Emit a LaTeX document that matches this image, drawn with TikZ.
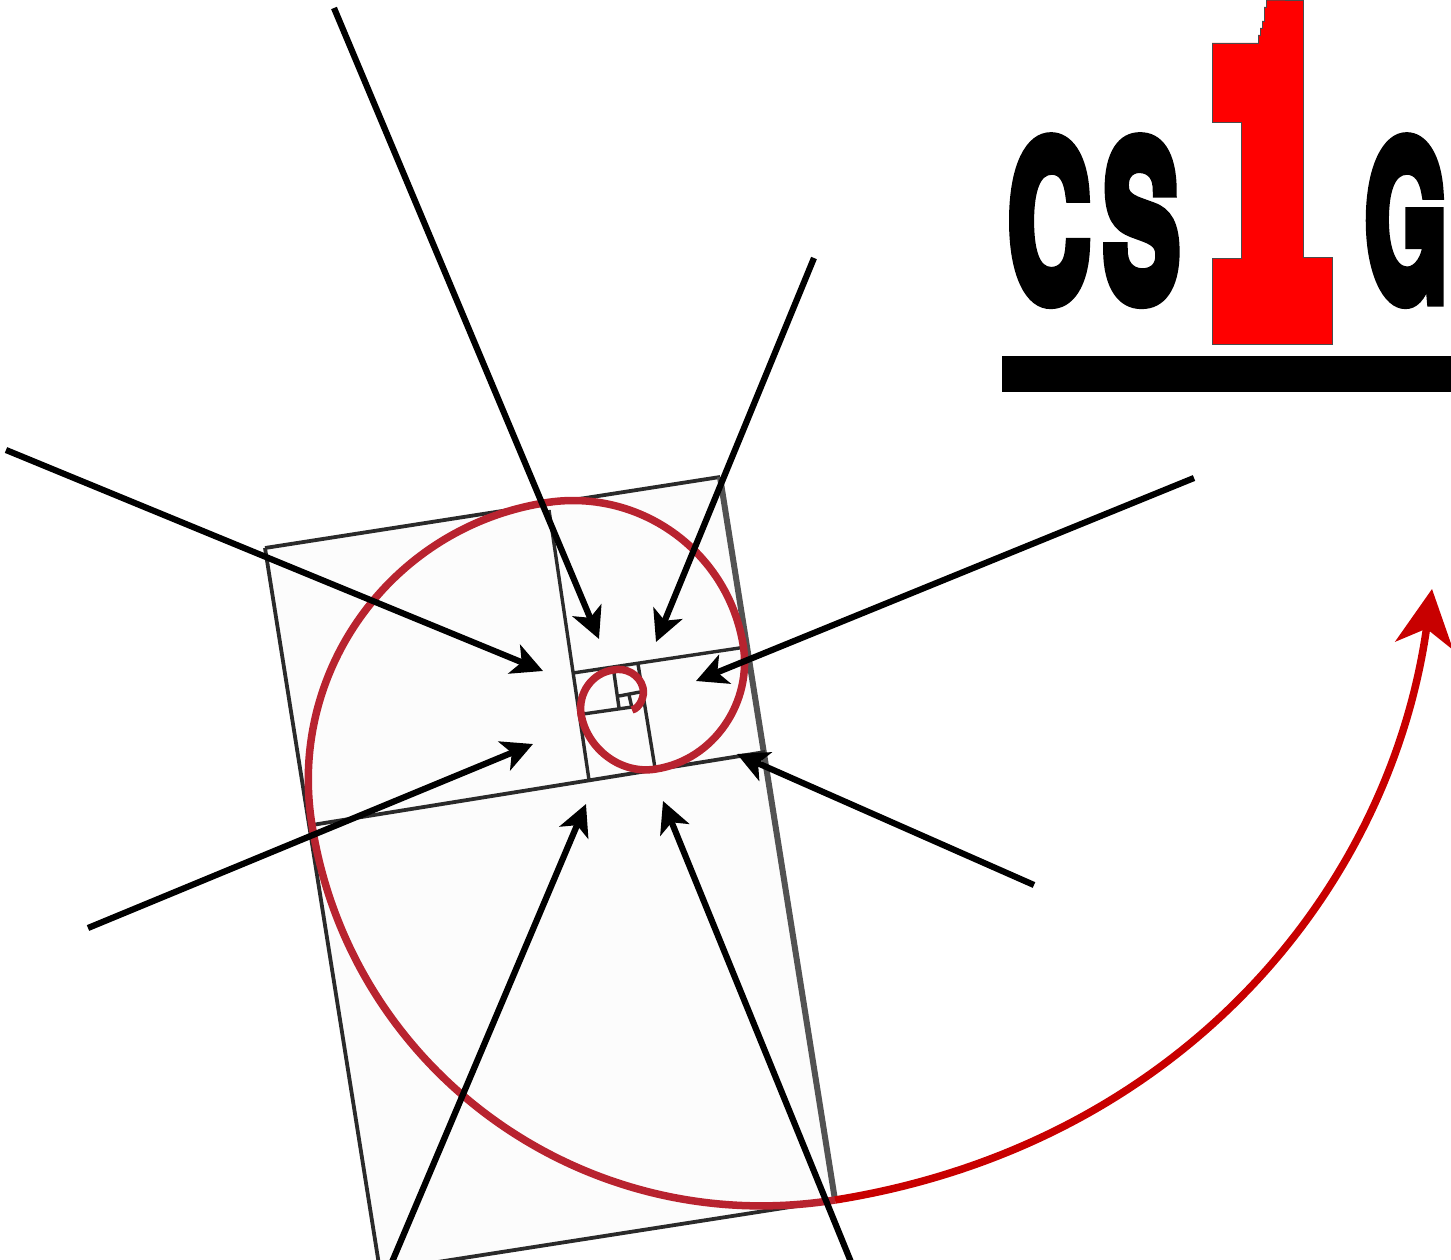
\documentclass[tikz,border=0pt]{standalone}
\usepackage{fontspec}
\usetikzlibrary{arrows.meta}
\newfontfamily\logofont[BoldFeatures={FakeBold=7}]{TeX Gyre Heros}
\definecolor{spiralred}{HTML}{B8232F}
\definecolor{arrowred}{HTML}{C80000}
\definecolor{paper}{HTML}{FCFCFC}
\definecolor{edgegray}{HTML}{2A2A2A}
\tikzset{
  frameline/.style={draw=edgegray,line width=3.8pt},
  fineline/.style={draw=edgegray,line width=3.4pt},
  pointer/.style={draw=black,line width=6.2pt,-{Stealth[length=31pt,width=31pt,inset=8pt]}},
  logotext/.style={inner sep=0pt,outer sep=0pt,text=black,font=\logofont\bfseries\fontsize{215}{215}\selectfont}
}
\begin{document}
\begin{tikzpicture}[x=1pt,y=-1pt]
\useasboundingbox (0,0) rectangle (1451,1260);
\clip (0,0) rectangle (1451,1260);
% paper
\fill[paper] (265,548) -- (720,477) -- (835,1200) -- (380,1271) -- cycle;
\draw[frameline] (265,548) -- (720,477);
\draw[frameline] (265,548) -- (380,1271) -- (835,1200);
\draw[draw=black!68,line width=6pt] (720,477) -- (835,1200);
% dividers
\draw[frameline] (312,825) -- (765,752);
\draw[fineline] (549,510) -- (589,780);
\draw[fineline] (573,673) -- (746,647);
\draw[fineline] (638,664) -- (655,768);
\draw[fineline] (583,714) -- (632,707);
\draw[fineline] (614,673) -- (619,708);
\draw[fineline] (619,696) -- (640,692);
\draw[fineline] (629,695) -- (632,708);
% spiral
\draw[spiralred,line width=7.5pt]
  (835,1200) .. controls (585,1240) and (351,1072) .. (312,825)
  .. controls (287,672) and (391,528) .. (544,503)
  .. controls (638,487) and (727,550) .. (743,644)
  .. controls (753,702) and (714,760) .. (656,769)
  .. controls (621,775) and (587,749) .. (581,714)
  .. controls (578,693) and (592,673) .. (613,670)
  .. controls (626,667) and (640,675) .. (643,688)
  .. controls (645,696) and (640,708) .. (632,710);
% red arrow
\draw[arrowred,line width=7.5pt,-{Stealth[length=57pt,width=58pt,inset=17pt]}]
  (835,1200) .. controls (1180,1145) and (1390,890) .. (1432,589);
% pointers
\coordinate (a1s) at (334,8);    \coordinate (a1e) at (599,639);
\coordinate (a2s) at (814,258);  \coordinate (a2e) at (656,642);
\coordinate (a3s) at (6,450);    \coordinate (a3e) at (543,671);
\coordinate (a4s) at (1194,478); \coordinate (a4e) at (696,681);
\coordinate (a5s) at (1034,885); \coordinate (a5e) at (737,754);
\coordinate (a6s) at (88,928);   \coordinate (a6e) at (533,744);
\coordinate (a7s) at (392,1262); \coordinate (a7e) at (586,804);
\coordinate (a8s) at (851,1262); \coordinate (a8e) at (663,801);
\foreach \n in {1,...,8} {\draw[pointer] (a\n s) -- (a\n e);}
% logo
\node[logotext,anchor=base west] (cs) at (1008,299) {\scalebox{0.53}[1]{C\kern 25pt S}};
\node[logotext,anchor=base west] (g) at (1365,299) {\scalebox{0.49}[1]{G}};
\filldraw[fill=red,draw=black!70,line width=0.8pt]
  (1267,0) -- (1303,0) -- (1303,257) -- (1332,257) -- (1332,344) -- (1212,344) -- (1212,258)
  -- (1241,258) -- (1241,122) -- (1212,122) -- (1212,43) -- (1258,43) -- (1258,35) -- (1260,35)
  -- (1260,28) -- (1262,28) -- (1262,21) -- (1264,21) -- (1264,7) -- (1266,7) -- (1266,0) -- cycle;
\fill[black] (1002,356) rectangle (1451,392);
\end{tikzpicture}
\end{document}
